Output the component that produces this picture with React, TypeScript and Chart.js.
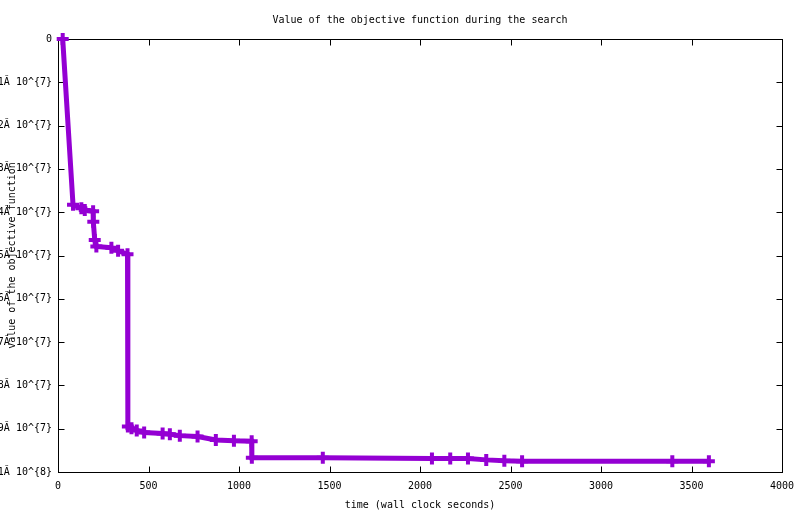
import React, { useEffect, useRef } from 'react';
import Chart from 'chart.js/auto';

// wall clock seconds
const times = [26, 83, 129, 148, 194, 195, 203, 212, 295, 332, 384, 386, 406, 435, 476, 578, 618, 673, 771, 872, 972, 1070, 1071, 1463, 2066, 2167, 2265, 2366, 2466, 2564, 3394, 3596];
// objective value, in units of 10^7
const values = [0, -3.83, -3.91, -3.95, -3.98, -4.22, -4.64, -4.79, -4.82, -4.89, -4.97, -8.95, -8.99, -9.04, -9.09, -9.11, -9.13, -9.16, -9.18, -9.26, -9.28, -9.29, -9.67, -9.67, -9.69, -9.69, -9.69, -9.72, -9.74, -9.75, -9.75, -9.75];

const xTicks = [0, 500, 1000, 1500, 2000, 2500, 3000, 3500, 4000];
const yTickLabels = ['0', '1Ă 10^{7}', '2Ă 10^{7}', '3Ă 10^{7}', '4Ă 10^{7}', '5Ă 10^{7}', '6Ă 10^{7}', '7Ă 10^{7}', '8Ă 10^{7}', '9Ă 10^{7}', '1Ă 10^{8}'];

const FONT = { family: '"DejaVu Sans Mono", monospace', size: 10, weight: 'normal' as const };

// gnuplot-like frame with inward, mirrored ticks and the y title
const framePlugin = {
  id: 'frame',
  beforeDatasetsDraw(chart: any) {
    const { ctx, chartArea: a, scales } = chart;
    const L = Math.round(a.left) + 0.5;
    const R = Math.round(a.right) + 0.5;
    const T = Math.round(a.top) + 0.5;
    const B = Math.round(a.bottom) + 0.5;
    const tl = 6;
    ctx.save();
    ctx.strokeStyle = '#000';
    ctx.lineWidth = 1;
    ctx.strokeRect(L, T, R - L, B - T);
    ctx.beginPath();
    xTicks.forEach((t) => {
      const x = Math.round(scales.x.getPixelForValue(t)) + 0.5;
      ctx.moveTo(x, B); ctx.lineTo(x, B - tl);
      ctx.moveTo(x, T); ctx.lineTo(x, T + tl);
    });
    yTickLabels.forEach((_, i) => {
      const y = Math.round(scales.y.getPixelForValue(-i * 1e7)) + 0.5;
      ctx.moveTo(L, y); ctx.lineTo(L + tl, y);
      ctx.moveTo(R, y); ctx.lineTo(R - tl, y);
    });
    ctx.stroke();
    ctx.restore();
  },
  afterDraw(chart: any) {
    const { ctx, chartArea: a } = chart;
    ctx.save();
    ctx.fillStyle = '#000';
    ctx.font = `${FONT.size}px ${FONT.family}`;
    ctx.textAlign = 'center';
    ctx.textBaseline = 'middle';
    ctx.translate(12, (a.top + a.bottom) / 2);
    ctx.rotate(-Math.PI / 2);
    ctx.fillText('value of the objective function', 0, 0);
    ctx.restore();
  },
};

const App: React.FC = () => {
  const canvasRef = useRef<HTMLCanvasElement>(null);
  const chartRef = useRef<Chart | null>(null);

  useEffect(() => {
    if (!canvasRef.current) return;
    if (chartRef.current) chartRef.current.destroy();

    chartRef.current = new Chart(canvasRef.current, {
      type: 'line',
      data: {
        datasets: [{
          label: 'objective',
          data: times.map((t, i) => ({ x: t, y: values[i] * 1e7 })),
          borderColor: '#9400D3',
          backgroundColor: '#9400D3',
          borderWidth: 5,
          pointStyle: 'cross',
          pointRadius: 6,
          pointBorderWidth: 4,
          pointHoverRadius: 6,
          tension: 0,
          fill: false,
          clip: false as any,
        }],
      },
      options: {
        responsive: false,
        animation: false,
        layout: { padding: { left: 0, right: 18, top: 0, bottom: 0 } },
        plugins: {
          legend: { display: false },
          tooltip: { enabled: false },
          title: {
            display: true,
            text: 'Value of the objective function during the search',
            color: '#000',
            font: FONT,
            fullSize: false,
            padding: { top: 14, bottom: 13 },
          },
        },
        scales: {
          x: {
            type: 'linear',
            min: 0,
            max: 4000,
            grid: { display: false, drawTicks: false },
            border: { display: false },
            afterFit: (s: any) => { s.height = 42; s.paddingRight = 0; },
            ticks: {
              stepSize: 500,
              color: '#000',
              font: FONT,
              padding: 8,
              maxRotation: 0,
              callback: (v: any) => String(v),
            },
            title: {
              display: true,
              text: 'time (wall clock seconds)',
              color: '#000',
              font: FONT,
              padding: { top: 0, bottom: 3 },
            },
          },
          y: {
            type: 'linear',
            min: -1e8,
            max: 0,
            grid: { display: false, drawTicks: false },
            border: { display: false },
            afterFit: (s: any) => { s.width = 58; },
            ticks: {
              stepSize: 1e7,
              color: '#000',
              font: FONT,
              padding: 6,
              callback: (v: any) => yTickLabels[Math.round(-Number(v) / 1e7)],
            },
          },
        },
      },
      plugins: [framePlugin],
    });

    return () => {
      if (chartRef.current) {
        chartRef.current.destroy();
        chartRef.current = null;
      }
    };
  }, []);

  return (
    <div style={{ position: 'absolute', left: 0, top: 0, width: 800, height: 514, background: '#fff' }}>
      <canvas ref={canvasRef} width={800} height={514} style={{ display: 'block' }} />
    </div>
  );
};

export default App;
